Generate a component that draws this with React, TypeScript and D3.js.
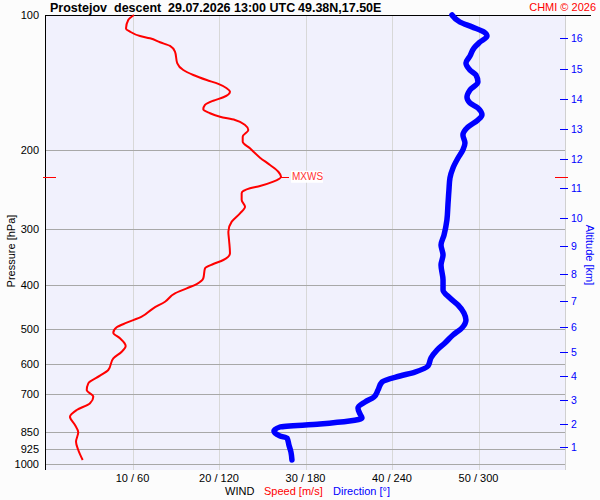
import React from 'react';
import * as d3 from 'd3';

// wind speed profile [m/s] vs pressure [hPa]
const speedP = [100, 102.6, 107.1, 108.9, 111.4, 112.7, 115.0, 117.2, 120.7, 128.1, 132.6, 136.0, 139.6, 142.4, 145.6, 148.2, 152.5, 155.2, 158.6, 162.2, 165.5, 168.5, 171.3, 175.8, 180.3, 186.6, 191.5, 198.1, 207.9, 215.8, 223.4, 229.2, 235.1, 240.3, 243.2, 249.5, 258.2, 267.3, 276.5, 288.6, 303.8, 317.0, 339.4, 351.3, 358.6, 366.6, 385.9, 397.3, 406.2, 416.7, 435.1, 450.0, 469.8, 484.5, 496.1, 510.0, 524.9, 546.0, 562.2, 581.6, 617.5, 635.8, 661.1, 684.2, 708.1, 732.5, 758.1, 784.6, 818.8, 850.0, 892.0, 930.8, 979.7];
const speedV = [10.17, 9.51, 9.25, 9.71, 10.87, 12.02, 13.18, 14.34, 14.91, 15.18, 15.87, 17.03, 18.58, 19.92, 20.89, 21.27, 20.5, 19.34, 18.38, 18.18, 18.96, 20.12, 21.85, 23.01, 23.39, 22.74, 22.74, 23.58, 24.74, 25.9, 26.86, 27.17, 26.28, 24.74, 23.58, 22.62, 22.62, 23.01, 22.43, 21.47, 21.08, 21.16, 21.27, 20.5, 19.34, 18.38, 18.18, 17.42, 16.27, 14.91, 13.76, 12.4, 11.06, 9.33, 8.17, 7.78, 8.55, 9.21, 8.75, 7.78, 7.2, 6.24, 4.89, 4.71, 5.47, 5.09, 3.55, 2.77, 3.35, 3.73, 3.47, 3.73, 4.24];

// wind direction profile [deg] vs pressure [hPa]
const dirP = [100, 103.7, 106.3, 109.1, 111.4, 114.9, 118.4, 123.4, 127.9, 132.6, 136.0, 141.0, 146.9, 152.3, 157.0, 161.1, 167.0, 171.3, 177.6, 185.0, 192.8, 199.8, 208.2, 219.1, 230.7, 245.3, 264.9, 286.1, 309.0, 325.3, 342.4, 360.4, 389.2, 409.7, 426.9, 442.5, 461.0, 477.8, 497.9, 516.1, 537.7, 557.4, 580.7, 605.0, 623.9, 636.8, 656.7, 684.2, 709.2, 727.6, 750.4, 773.7, 789.9, 814.6, 827.2, 844.3, 866.2, 875.2, 907.2, 940.3, 979.7];
const dirV = [281.6, 287.2, 295.5, 303.8, 305.9, 301.0, 296.9, 294.1, 291.3, 294.1, 298.2, 299.6, 294.1, 292.0, 294.1, 299.6, 302.4, 299.6, 292.7, 289.2, 290.6, 289.2, 285.8, 282.3, 280.2, 279.5, 278.8, 278.1, 276.1, 274.0, 275.4, 274.0, 275.4, 275.4, 280.2, 285.8, 289.9, 291.3, 288.5, 282.3, 276.7, 271.2, 267.0, 265.0, 255.9, 245.5, 233.1, 230.3, 227.5, 221.3, 216.4, 217.8, 219.2, 190.0, 162.3, 158.1, 162.3, 167.2, 168.5, 169.9, 170.6];

const pressureTicks = [100, 200, 300, 400, 500, 600, 700, 850, 925, 1000];
const speedTicks = [10, 20, 30, 40, 50];
const dirTicks = [60, 120, 180, 240, 300];
const altKm = [1, 2, 3, 4, 5, 6, 7, 8, 9, 10, 11, 12, 13, 14, 15, 16];
const altP = [915, 814.7, 720, 636.8, 564, 494.5, 433.5, 377.4, 326.9, 283.7, 242.8, 209.3, 179.4, 153.8, 132.1, 112.7];

const W = 600;
const H = 500;
const left = 45;
const right = 565;
const top = 15;
const bottom = 470;
const font = 'Arial, "Liberation Sans", sans-serif';

const App: React.FC = () => {
  const y = d3.scaleLog().domain([100, 1000]).range([15, 464]);
  const xs = d3.scaleLinear().domain([0, 60]).range([46, 565]);
  const xd = d3.scaleLinear().domain([0, 360]).range([46, 565]);

  const speedPts = speedP.map((p, i) => [xs(speedV[i]), y(p)] as [number, number]);
  const dirPts = dirP.map((p, i) => [xd(dirV[i]), y(p)] as [number, number]);
  const line = d3.line().curve(d3.curveMonotoneY);

  // max wind
  const iMax = d3.maxIndex(speedV);
  const mx = xs(speedV[iMax]);
  const my = y(speedP[iMax]);

  return (
    <div style={{ position: 'absolute', left: 0, top: 0 }}>
      <svg width={W} height={H} style={{ display: 'block', fontFamily: font }}>
        <rect x={0} y={0} width={W} height={H} fill="#fcfcfc" />
        <rect x={left} y={top} width={right - left} height={bottom - top} fill="#f1f1fd" />

        {/* vertical grid */}
        {speedTicks.map(t => (
          <line key={t} x1={Math.round(xs(t)) + 0.5} x2={Math.round(xs(t)) + 0.5} y1={top} y2={bottom} stroke="#d8d8d8" />
        ))}
        <line x1={right + 0.5} x2={right + 0.5} y1={top} y2={bottom} stroke="#d0d0d0" />

        {/* horizontal grid */}
        {pressureTicks.filter(p => p > 100).map(p => (
          <line key={p} x1={left} x2={right} y1={Math.round(y(p)) + 0.5} y2={Math.round(y(p)) + 0.5} stroke="#a8a8a8" />
        ))}

        {/* axes */}
        <line x1={left} x2={591} y1={top + 0.5} y2={top + 0.5} stroke="#000" />
        <line x1={left + 0.5} x2={left + 0.5} y1={top} y2={bottom} stroke="#000" />

        {pressureTicks.map(p => (
          <text key={p} x={39} y={y(p) + 4} fontSize={11} textAnchor="end" fill="#000">{p}</text>
        ))}

        {speedTicks.map((t, i) => (
          <text key={t} x={xs(t)} y={482} fontSize={11} textAnchor="middle" fill="#000">{`${t} / ${dirTicks[i]}`}</text>
        ))}

        {/* altitude axis */}
        {altKm.map((k, i) => (
          <g key={k}>
            <line x1={560} x2={568} y1={Math.round(y(altP[i])) + 0.5} y2={Math.round(y(altP[i])) + 0.5} stroke="#0000ff" />
            <text x={571} y={y(altP[i]) + 4} fontSize={10.5} fill="#0000ff">{k}</text>
          </g>
        ))}

        {/* direction */}
        <path d={line(dirPts) || ''} fill="none" stroke="#0000ff" strokeWidth={5.5} strokeLinecap="round" strokeLinejoin="round" />
        {/* speed */}
        <path d={line(speedPts) || ''} fill="none" stroke="#ff0000" strokeWidth={2} strokeLinejoin="round" />

        {/* MXWS */}
        <line x1={43} x2={56} y1={Math.round(my) + 0.5} y2={Math.round(my) + 0.5} stroke="#ff0000" />
        <line x1={555} x2={568} y1={Math.round(my) + 0.5} y2={Math.round(my) + 0.5} stroke="#ff0000" />
        <line x1={mx} x2={mx + 8} y1={Math.round(my) + 0.5} y2={Math.round(my) + 0.5} stroke="#ff0000" />
        <rect x={mx + 10} y={my - 6} width={32} height={12} fill="#ffffff" />
        <text x={mx + 11} y={my + 3.5} fontSize={10} fill="#ff3333">MXWS</text>

        {/* title */}
        <text y={12} fontSize={12.5} fontWeight="bold" fill="#000">
          <tspan x={50}>Prostejov</tspan>
          <tspan x={114}>descent</tspan>
          <tspan x={168}>29.07.2026 13:00 UTC</tspan>
          <tspan x={298}>49.38N,17.50E</tspan>
        </text>
        <text x={596} y={11} fontSize={11} textAnchor="end" fill="#ff0000">CHMI © 2026</text>

        {/* axis titles */}
        <text transform="translate(15,251) rotate(-90)" fontSize={11} textAnchor="middle" fill="#000">Pressure [hPa]</text>
        <text transform="translate(586,255) rotate(90)" fontSize={11} textAnchor="middle" fill="#0000ff">Altitude [km]</text>

        <text x={225} y={495} fontSize={11} fill="#000">WIND</text>
        <text x={264} y={495} fontSize={11} fill="#ff0000">Speed [m/s]</text>
        <text x={333} y={495} fontSize={11} fill="#0000ff">Direction [°]</text>
      </svg>
    </div>
  );
};

export default App;
